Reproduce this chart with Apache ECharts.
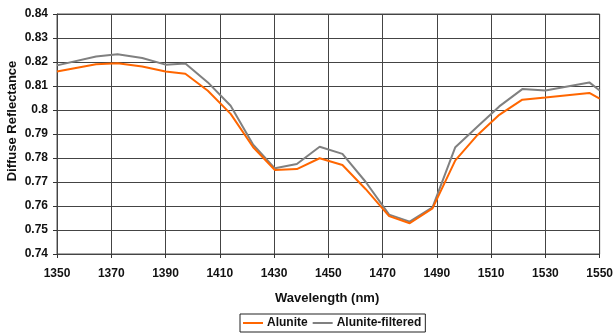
<!DOCTYPE html>
<html>
<head>
<meta charset="utf-8">
<script src="https://cdn.jsdelivr.net/npm/echarts@6/dist/echarts.min.js"></script>
<style>
html,body{margin:0;padding:0;background:#fff;}
#chart{width:616px;height:335px;}
</style>
</head>
<body>
<div id="chart"></div>
<script>
// Data
const wavelength = [1350, 1364.4, 1372.3, 1381.4, 1390, 1397.3, 1405.6, 1414, 1422.3, 1430.3, 1438.4, 1446.8, 1455.2, 1463.8, 1472.4, 1480, 1488.4, 1496.8, 1505, 1513, 1521.5, 1530, 1546.2, 1550];
const alunite = [0.8160, 0.8191, 0.8195, 0.8181, 0.8160, 0.8151, 0.8080, 0.7984, 0.7845, 0.7750, 0.7754, 0.7799, 0.7771, 0.7670, 0.7558, 0.7528, 0.7590, 0.7790, 0.7896, 0.7980, 0.8043, 0.8052, 0.8071, 0.8047];
const aluniteFiltered = [0.8186, 0.8223, 0.8232, 0.8217, 0.8189, 0.8194, 0.8115, 0.8018, 0.7855, 0.7757, 0.7775, 0.7847, 0.7817, 0.7700, 0.7564, 0.7535, 0.7594, 0.7845, 0.7931, 0.8015, 0.8087, 0.8081, 0.8115, 0.8081];
const seriesNames = ['Alunite', 'Alunite-filtered'];
const xTicks = {min: 1350, max: 1550, interval: 20};
const yTicks = {min: 0.74, max: 0.84, interval: 0.01};

const pair = (xs, ys) => xs.map((x, i) => [x, ys[i]]);
const FONT = '"Liberation Sans", Arial, sans-serif';

const chart = echarts.init(document.getElementById('chart'), null, {renderer: 'canvas'});
chart.setOption({
  animation: false,
  backgroundColor: '#ffffff',
  grid: {left: 57, right: 12, top: 14, bottom: 81, show: true, borderColor: '#555', borderWidth: 1},
  xAxis: {
    type: 'value', min: xTicks.min, max: xTicks.max, interval: xTicks.interval,
    axisLine: {show: true, lineStyle: {color: '#444', width: 1}},
    axisTick: {show: true, inside: false, length: 4, lineStyle: {color: '#333'}},
    splitLine: {show: true, lineStyle: {color: '#444', width: 1}},
    axisLabel: {margin: 14, color: '#111', fontFamily: FONT, fontWeight: 'bold', fontSize: 12,
      formatter: v => String(Math.round(v))}
  },
  yAxis: {
    type: 'value', min: yTicks.min, max: yTicks.max, interval: yTicks.interval,
    axisLine: {show: true, lineStyle: {color: '#444', width: 1}},
    axisTick: {show: true, inside: false, length: 4, lineStyle: {color: '#333'}},
    splitLine: {show: true, lineStyle: {color: '#444', width: 1}},
    axisLabel: {margin: 9, color: '#111', fontFamily: FONT, fontWeight: 'bold', fontSize: 12,
      formatter: v => String(+v.toFixed(2))}
  },
  legend: {
    left: 240, top: 314,
    data: seriesNames,
    icon: 'rect', itemWidth: 20, itemHeight: 2, itemGap: 5,
    padding: [3, 4, 3, 3],
    borderColor: '#222', borderWidth: 1,
    textStyle: {color: '#111', fontFamily: FONT, fontWeight: 'bold', fontSize: 12, padding: [0, 0, 0, -1]}
  },
  graphic: [
    {type: 'text', left: 275, top: 292,
     style: {text: 'Wavelength (nm)', fontFamily: FONT, fontWeight: 'bold', fontSize: 13, fill: '#111'}},
    {type: 'text', x: 12, y: 121, rotation: Math.PI / 2,
     style: {text: 'Diffuse Reflectance', align: 'center', verticalAlign: 'middle', fontFamily: FONT, fontWeight: 'bold', fontSize: 13, fill: '#111'}}
  ],
  series: [
    {name: seriesNames[0], type: 'line', data: pair(wavelength, alunite), showSymbol: false, symbol: 'none',
     lineStyle: {color: '#FF6600', width: 2}, itemStyle: {color: '#FF6600'}, z: 3},
    {name: seriesNames[1], type: 'line', data: pair(wavelength, aluniteFiltered), showSymbol: false, symbol: 'none',
     lineStyle: {color: '#808080', width: 2}, itemStyle: {color: '#808080'}, z: 2}
  ]
});
</script>
</body>
</html>
